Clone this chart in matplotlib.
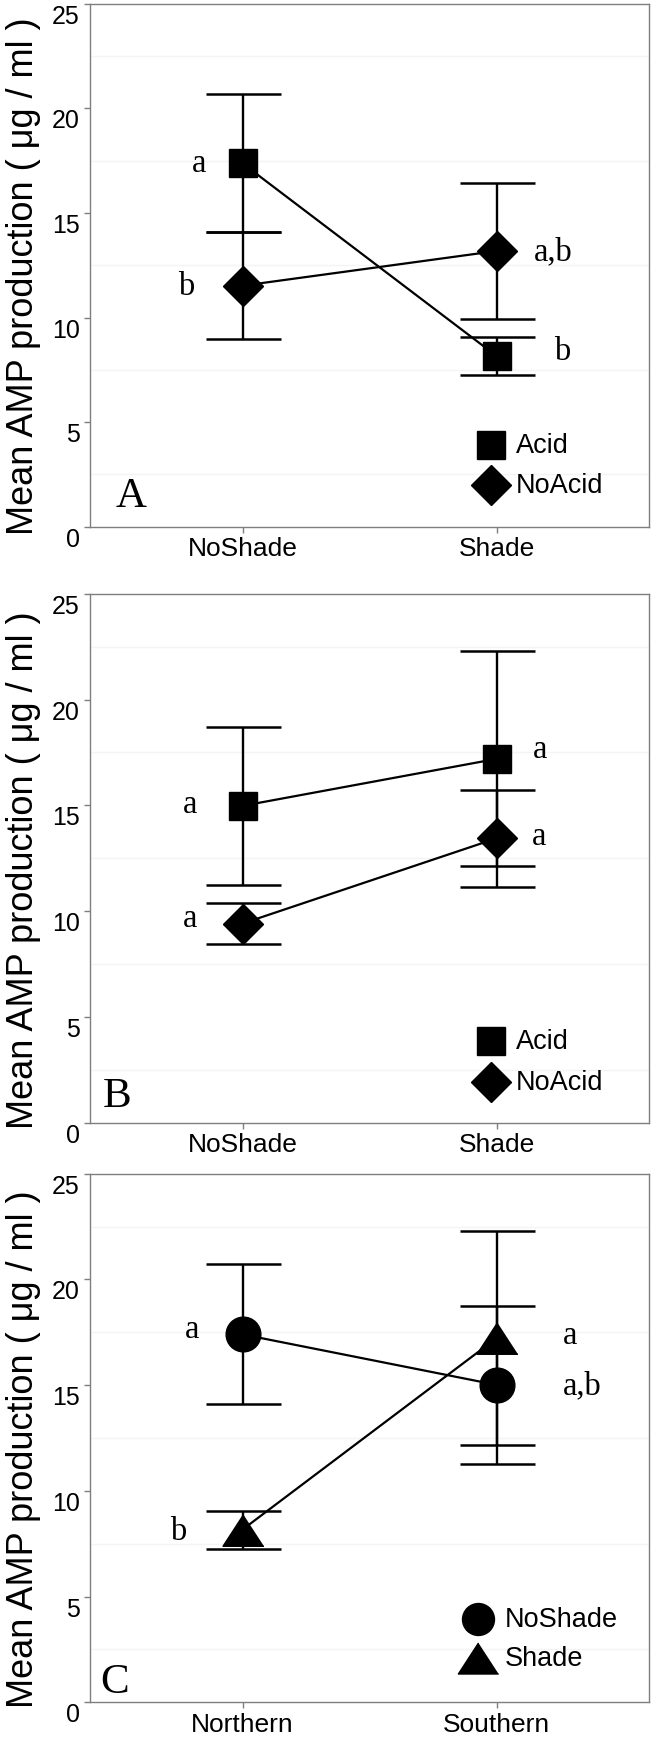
import matplotlib
matplotlib.use("Agg")
import matplotlib.pyplot as plt
import numpy as np

# ---------------- data ----------------
cats_AB = ["NoShade", "Shade"]
cats_C = ["Northern", "Southern"]

# Panel A
A_acid = [17.37, 8.15]
A_acid_err = [3.30, 0.90]
A_noacid = [11.52, 13.18]
A_noacid_err = [2.55, 3.25]
A_letters_acid = ["a", "b"]
A_letters_noacid = ["b", "a,b"]

# Panel B
B_acid = [14.98, 17.20]
B_acid_err = [3.72, 5.07]
B_noacid = [9.42, 13.45]
B_noacid_err = [0.96, 2.28]
B_letters_acid = ["a", "a"]
B_letters_noacid = ["a", "a"]

# Panel C
C_noshade = [17.40, 15.01]
C_noshade_err = [3.31, 3.72]
C_shade = [8.17, 17.23]
C_shade_err = [0.90, 5.06]
C_letters_noshade = ["a", "a,b"]
C_letters_shade = ["b", "a"]

series_AB = ["Acid", "NoAcid"]
series_C = ["NoShade", "Shade"]
panel_tags = ["A", "B", "C"]
yticks = [0, 5, 10, 15, 20, 25]

# ---------------- style ----------------
SANS = ["Liberation Sans", "DejaVu Sans"]
SERIF = ["Liberation Serif", "DejaVu Serif"]
plt.rcParams["font.family"] = SANS
GRAY = "#7f7f7f"
TRI = [(0, 0.77), (-1, -0.77), (1, -0.77)]

fig = plt.figure(figsize=(6.51, 17.40), dpi=100)
W, H = 651.0, 1740.0
boxes = [(4.7, 527.7), (594.7, 1124.0), (1174.7, 1703.3)]
axes = []
for top, bot in boxes:
    ax = fig.add_axes([90 / W, 1 - bot / H, (649.3 - 90) / W, (bot - top) / H])
    axes.append(ax)


def style_axis(ax, cats, tag, tagx, tagy):
    ax.set_xlim(-0.6, 1.6)
    ax.set_ylim(0, 25)
    ax.set_xticks(range(len(cats)))
    ax.set_xticklabels(cats, fontsize=19)
    ax.set_yticks(yticks)
    ax.set_yticklabels([str(t) for t in yticks], fontsize=18)
    for lab in ax.get_yticklabels():
        lab.set_va("top")
    ax.set_yticks(np.arange(2.5, 25, 5), minor=True)
    ax.grid(which="minor", axis="y", color="#f4f4f4", lw=1.0)
    ax.tick_params(which="minor", length=0)
    ax.tick_params(which="major", length=4.3, width=1.0, color=GRAY, labelcolor="black")
    ax.tick_params(axis="y", pad=3.0)
    ax.tick_params(axis="x", pad=2.5)
    for s in ax.spines.values():
        s.set_color(GRAY)
        s.set_linewidth(1.0)
    ax.set_ylabel("Mean AMP production ( \u03bcg / ml )", fontsize=26)
    ax.yaxis.set_label_coords(-0.088, 0.48)
    ax.text(tagx, tagy, tag, fontsize=31, family=SERIF, ha="left", va="baseline")
    ax.set_axisbelow(True)


def draw_series(ax, y, err, marker, ms):
    x = np.arange(len(y))
    ax.errorbar(x, y, yerr=err, fmt="-", marker=marker, color="black", ms=ms,
                lw=1.6, elinewidth=1.7, capsize=27, capthick=1.8, zorder=3)


def letters(ax, labels, xs, ys):
    for lab, x, y in zip(labels, xs, ys):
        ax.text(x, y, lab, fontsize=23.5, family=SERIF, ha="left", va="baseline", zorder=4)


def legend(ax, names, markers, sizes, mx, tx, ys):
    for n, m, s, y in zip(names, markers, sizes, ys):
        ax.plot([mx], [y], marker=m, ms=s, color="black", ls="none", zorder=4)
        ax.text(tx, y, n, fontsize=19.5, ha="left", va="center", zorder=4)


# Panel A
ax = axes[0]
style_axis(ax, cats_AB, panel_tags[0], -0.5, 1.0)
draw_series(ax, A_acid, A_acid_err, "s", 20)
draw_series(ax, A_noacid, A_noacid_err, "D", 20)
letters(ax, A_letters_acid, [-0.20, 1.225], [17.0, 8.0])
letters(ax, A_letters_noacid, [-0.255, 1.146], [11.1, 12.8])
legend(ax, series_AB, ["s", "D"], [20, 20], 0.978, 1.075, [3.9, 1.99])

# Panel B
ax = axes[1]
style_axis(ax, cats_AB, panel_tags[1], -0.55, 0.82)
draw_series(ax, B_acid, B_acid_err, "s", 20)
draw_series(ax, B_noacid, B_noacid_err, "D", 20)
letters(ax, B_letters_acid, [-0.233, 1.143], [14.68, 17.3])
letters(ax, B_letters_noacid, [-0.236, 1.14], [9.3, 13.2])
legend(ax, series_AB, ["s", "D"], [20, 20], 0.977, 1.075, [3.88, 1.96])

# Panel C
ax = axes[2]
style_axis(ax, cats_C, panel_tags[2], -0.56, 0.5)
draw_series(ax, C_noshade, C_noshade_err, "o", 25)
draw_series(ax, C_shade, C_shade_err, TRI, 29.5)
letters(ax, C_letters_noshade, [-0.225, 1.26], [17.3, 14.6])
letters(ax, C_letters_shade, [-0.285, 1.26], [7.7, 17.0])
legend(ax, series_C, ["o", TRI], [23, 29], 0.927, 1.03, [3.92, 2.1])

fig.savefig("out.png", dpi=100)
